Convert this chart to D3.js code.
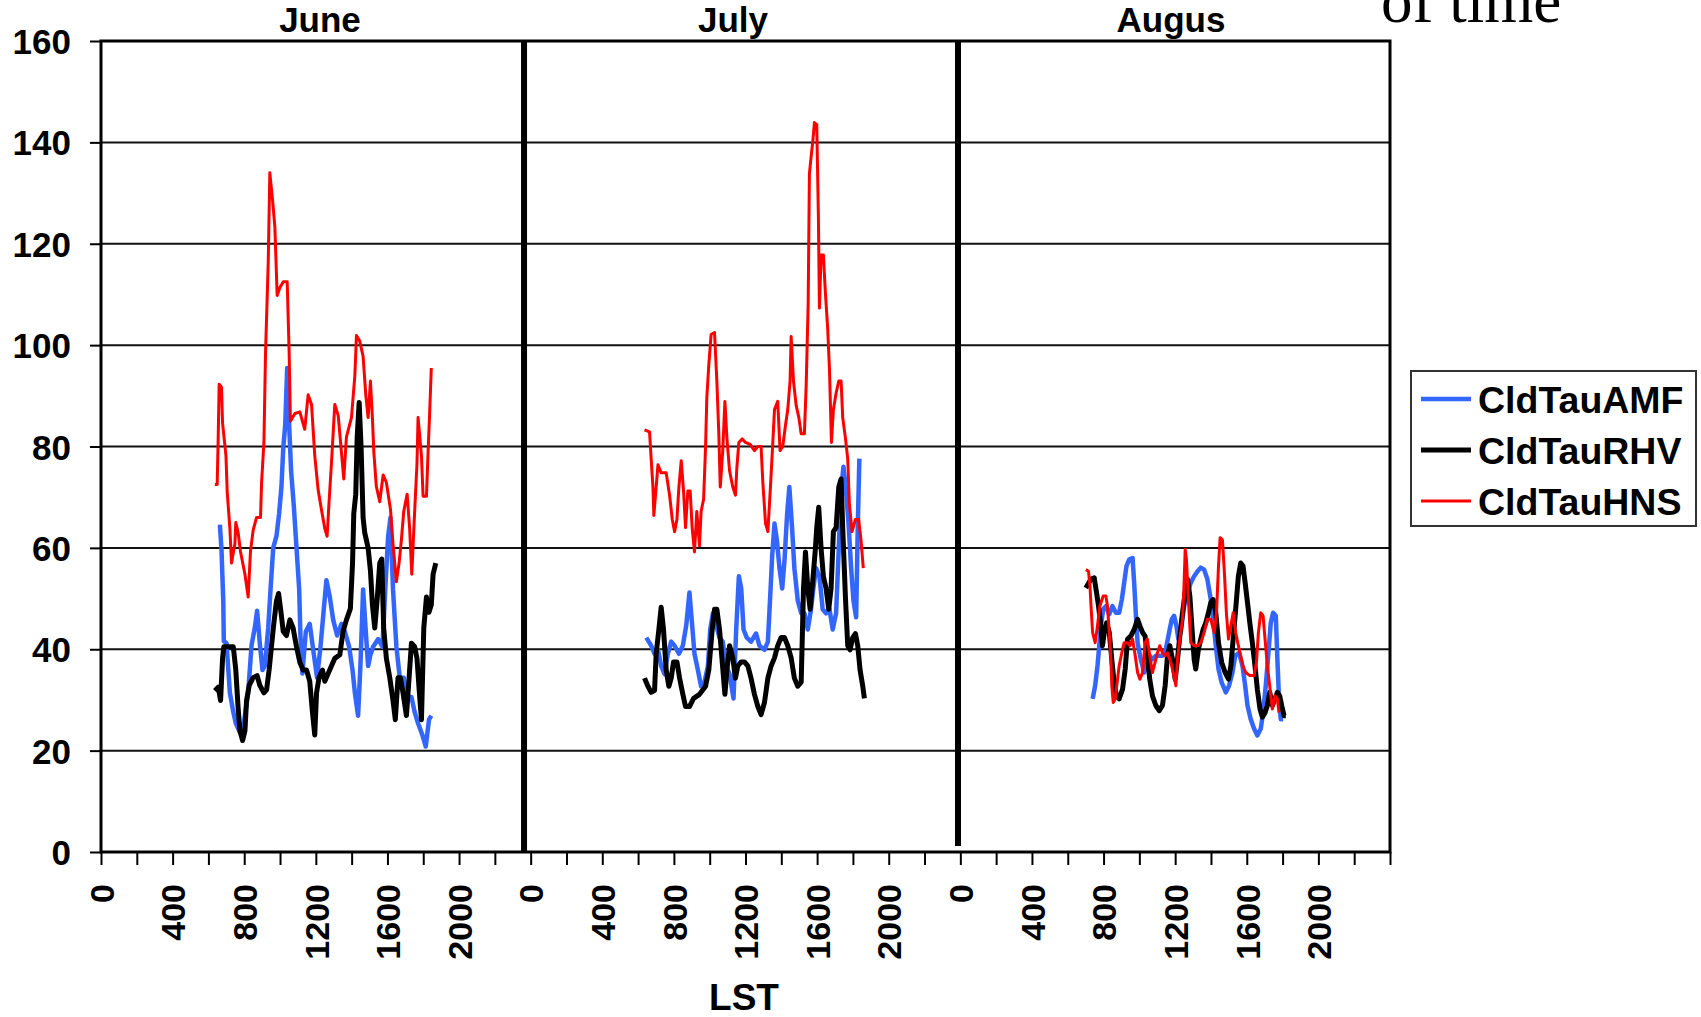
<!DOCTYPE html>
<html>
<head>
<meta charset="utf-8">
<script src="https://cdn.jsdelivr.net/npm/d3@7"></script>
<style>
  body { margin: 0; background: #fff; }
  text { font-family: "Liberation Sans", Arial, sans-serif; font-weight: bold; fill: #000; }
</style>
</head>
<body>
<svg id="chart" width="1701" height="1017"></svg>
<script>
// ---- data (LST, cloud optical depth) ----
const months = ["June", "July", "Augus"];
const seriesNames = ["CldTauAMF", "CldTauRHV", "CldTauHNS"];
const seriesColors = ["#3366ff", "#000000", "#ff0000"];
const yTicks = [0, 20, 40, 60, 80, 100, 120, 140, 160];
const xLabels = [0, 400, 800, 1200, 1600, 2000];

const juneAMF = [[664,64.6],[673,59.7],[683,49.5],[686,41.6],[701,41.2],[720,31.4],[739,27.6],[753,25.4],[772,23.9],[785,23.1],[804,26.9],[822,31.4],[841,40.8],[859,44.2],[872,47.6],[887,41.2],[902,35.9],[915,36.7],[934,44.2],[947,51.8],[962,60],[980,62.3],[995,66.8],[1008,72.1],[1018,79.7],[1029,84.2],[1040,95.5],[1051,84.2],[1062,75.1],[1077,68.3],[1092,60],[1107,51.8],[1114,42.7],[1125,35.2],[1144,43.5],[1166,45],[1189,38.9],[1207,34.4],[1226,40.5],[1241,46.5],[1259,53.6],[1278,50.3],[1297,45.8],[1319,42.7],[1343,45],[1362,43.5],[1386,40.5],[1405,35.9],[1418,31.4],[1436,26.9],[1449,36.7],[1464,51.8],[1479,43.5],[1492,36.7],[1505,38.9],[1520,40.5],[1548,42],[1572,40.5],[1591,54],[1604,62.3],[1617,66],[1631,51.8],[1650,40.5],[1669,34.4],[1691,34.4],[1710,30.6],[1734,30.6],[1752,27.6],[1771,25.4],[1795,23.1],[1814,20.8],[1832,26.1],[1845,26.9]];
const juneRHV = [[636,31.8],[655,32.5],[668,29.9],[679,38.2],[686,40.5],[711,40.5],[739,40.5],[753,35.9],[766,28.4],[776,23.9],[791,22],[804,23.9],[813,29.9],[828,32.9],[850,34.4],[872,34.8],[887,32.9],[910,31.4],[925,32],[939,35.9],[952,40.5],[965,45],[980,49.5],[992,51],[1003,48],[1018,43.5],[1036,42.7],[1055,45.8],[1073,44.2],[1092,40.5],[1111,37.4],[1129,35.9],[1148,35.9],[1166,33.7],[1181,27.6],[1194,23.1],[1204,31.4],[1218,34.4],[1237,35.9],[1250,33.7],[1269,35.2],[1287,36.7],[1306,38.2],[1334,38.9],[1352,43.5],[1371,45.8],[1393,48],[1405,57],[1412,66.8],[1423,70.6],[1431,81.9],[1442,88.7],[1453,79.7],[1464,66],[1473,63],[1492,60],[1505,55.5],[1516,48.8],[1529,44.2],[1542,49.5],[1557,57],[1568,57.8],[1579,44.2],[1594,38.2],[1613,34.4],[1631,29.9],[1644,26.1],[1659,34.4],[1672,34.4],[1687,31.4],[1706,26.9],[1721,34.4],[1734,41.2],[1752,40.5],[1765,38.2],[1777,32.1],[1790,26.1],[1803,44.2],[1818,50.3],[1832,47.3],[1845,48.8],[1855,54.8],[1870,57]];
const juneHNS = [[636,72.5],[649,72.5],[655,82.3],[660,92.3],[673,91.7],[679,84.6],[698,78.2],[705,71],[720,63.8],[729,57],[748,60.8],[753,65],[766,63],[779,59.3],[804,54.8],[822,50.3],[835,59.3],[850,63.5],[869,66],[891,66],[897,72.9],[910,80.8],[919,98.5],[934,116.2],[943,134],[958,128.7],[971,123.4],[984,109.8],[999,111.3],[1018,112.5],[1040,112.5],[1051,98.5],[1058,85],[1083,86.5],[1111,86.8],[1138,83.4],[1157,90.2],[1176,88.3],[1194,78.2],[1213,71.4],[1231,67.6],[1250,63.8],[1263,62.3],[1274,69.1],[1287,76.6],[1306,88.3],[1325,86.1],[1343,78.9],[1356,73.6],[1371,81.9],[1399,85.7],[1418,94],[1427,101.9],[1445,100.8],[1464,97.8],[1479,90.2],[1492,85.7],[1505,92.9],[1516,85.7],[1524,78.9],[1538,72.1],[1557,69.1],[1576,74.4],[1594,72.9],[1617,67.6],[1631,60.8],[1650,53.3],[1665,57],[1678,61.6],[1691,67.2],[1710,70.6],[1724,63.8],[1736,54.8],[1752,67.2],[1765,76.6],[1771,85.7],[1790,78.2],[1799,70.2],[1818,70.2],[1827,78.9],[1836,86.8],[1845,95.5]];

const julyAMF = [[646,42.3],[673,40.7],[692,39.1],[711,39.9],[729,36.7],[748,35.1],[766,39.1],[785,41.5],[804,40.7],[828,39.1],[850,40.7],[869,44.7],[887,51.2],[902,44.7],[915,39.1],[934,35.9],[952,32.7],[971,33.5],[990,36.7],[1003,43.9],[1018,47.1],[1036,44.7],[1055,42.3],[1073,41.5],[1092,36.7],[1111,35.1],[1133,30.3],[1148,43.9],[1163,54.4],[1176,52],[1189,43.9],[1207,42.3],[1231,41.5],[1259,43.1],[1278,40.7],[1306,39.9],[1325,41.5],[1338,50.4],[1349,58.4],[1362,64.8],[1375,61.6],[1390,56],[1405,52],[1418,57.6],[1432,66.4],[1445,72],[1460,64],[1473,56],[1492,49.6],[1511,47.1],[1529,47.1],[1548,43.9],[1566,47.9],[1579,52],[1594,56],[1613,54.4],[1631,47.9],[1650,47.1],[1669,47.9],[1687,43.9],[1706,47.1],[1721,60],[1734,71.2],[1747,76],[1762,71.2],[1777,64],[1790,56],[1803,49.6],[1818,46.3],[1827,64],[1836,77.6]];
const julyRHV = [[636,34.3],[655,32.7],[673,31.5],[692,31.9],[701,39.1],[716,43.9],[729,48.3],[742,43.9],[757,35.9],[772,32.7],[785,34.3],[798,37.5],[817,37.5],[832,34.3],[850,31.1],[865,28.7],[887,28.7],[910,30.3],[943,31.1],[977,32.7],[995,35.9],[1014,43.9],[1027,47.9],[1040,47.9],[1055,43.9],[1070,37.5],[1085,31.1],[1096,35.9],[1111,40.7],[1129,38.3],[1144,34.3],[1157,36.7],[1176,37.5],[1194,37.5],[1213,36.7],[1231,34.3],[1250,31.1],[1269,28.7],[1287,27.1],[1306,29.5],[1325,34.3],[1343,36.7],[1362,38.3],[1380,40.7],[1399,42.3],[1418,42.3],[1436,40.7],[1455,38.3],[1473,34.3],[1492,32.7],[1511,33.5],[1524,52],[1535,59.2],[1548,52],[1561,47.9],[1576,53.6],[1589,59.2],[1598,64],[1609,68],[1622,60],[1635,54.4],[1650,52],[1665,47.9],[1678,52],[1691,63.2],[1706,64],[1721,72],[1734,73.6],[1743,64],[1758,50.4],[1771,40.7],[1784,39.9],[1799,42.3],[1814,43.1],[1827,40.7],[1840,35.9],[1855,32.7],[1864,30.3]];
const julyHNS = [[636,83.3],[664,82.9],[673,77.6],[683,72],[688,66.4],[701,72],[711,76.4],[729,74.8],[757,74.8],[776,70.4],[791,65.6],[804,63.2],[817,65.6],[828,72],[841,77.2],[854,71.2],[865,64],[878,71.2],[891,71.2],[902,64],[915,59.2],[928,67.2],[943,60.4],[952,67.2],[966,69.6],[977,80],[984,89.7],[995,96.1],[1008,102.1],[1027,102.5],[1040,92.9],[1051,82.5],[1059,72],[1073,79.2],[1085,88.9],[1096,81.7],[1111,75.2],[1129,72],[1144,70.4],[1152,76],[1163,80.8],[1181,81.5],[1200,80.8],[1226,80.4],[1250,79.2],[1269,80],[1287,80],[1297,72.8],[1312,64.8],[1325,63.2],[1338,71.2],[1349,78.4],[1362,87.3],[1380,88.9],[1393,79.2],[1408,80],[1423,84.1],[1436,87.3],[1449,92.9],[1455,101.7],[1468,92.9],[1483,88.1],[1498,85.7],[1511,82.5],[1529,82.5],[1539,92.1],[1550,108.1],[1557,133.8],[1566,137],[1576,140.2],[1585,143.9],[1598,143.5],[1607,125.8],[1613,107.3],[1622,117.8],[1635,117.8],[1646,110.5],[1659,103.3],[1669,95.3],[1680,80.8],[1691,87.3],[1706,90.5],[1721,92.9],[1734,92.9],[1743,85.7],[1758,81.7],[1771,77.6],[1780,68.8],[1795,63.2],[1814,65.6],[1832,65.6],[1845,61.6],[1858,56]];

const augAMF = [[739,30.2],[753,32.8],[766,36.7],[776,40.7],[785,44.6],[798,47.9],[813,48.5],[832,46.9],[850,48.5],[869,47.2],[887,47.2],[902,49.8],[915,53.1],[928,56.4],[943,57.7],[962,58],[971,53.1],[980,47.2],[990,41.3],[1008,38],[1027,35.4],[1040,36.7],[1058,38.7],[1073,38],[1092,38.7],[1129,38.7],[1148,40],[1166,43.3],[1181,45.9],[1194,46.6],[1207,44.6],[1218,42],[1231,43.3],[1250,48.5],[1269,51.1],[1287,53.1],[1306,54.4],[1325,55.4],[1343,56.1],[1362,55.7],[1380,53.8],[1399,49.8],[1412,45.9],[1427,40.7],[1442,36.1],[1460,33.4],[1483,31.5],[1501,32.8],[1520,35.4],[1535,38.7],[1557,39.3],[1576,36.7],[1591,32.8],[1604,28.9],[1622,26.2],[1641,24.3],[1659,23],[1678,24.3],[1691,27.5],[1706,32.8],[1721,39.3],[1734,45.2],[1747,47.2],[1762,46.6],[1771,38],[1780,30.2],[1790,26.2],[1803,26.2]];
const augRHV = [[701,52.1],[729,53.8],[748,54.1],[761,51.1],[772,48.5],[785,44.6],[794,40.7],[804,43.3],[817,45.2],[832,43.3],[846,38],[859,33.4],[872,30.8],[887,30.2],[906,32.1],[921,36.1],[934,42],[952,42.6],[971,43.9],[990,45.9],[1003,44.6],[1018,43.3],[1032,42.6],[1045,38.7],[1058,34.1],[1073,30.8],[1092,28.9],[1111,27.9],[1129,28.9],[1144,32.8],[1157,38.7],[1170,40.7],[1185,38],[1200,34.1],[1213,38],[1226,42.6],[1241,47.2],[1256,51.1],[1269,53.8],[1282,50.5],[1293,44.6],[1306,38],[1315,36.1],[1330,40],[1343,42],[1356,43.9],[1371,45.2],[1386,47.2],[1399,49.2],[1412,49.8],[1427,47.2],[1442,41.3],[1460,37.4],[1479,35.4],[1498,34.1],[1511,36.7],[1524,42],[1538,47.9],[1553,54.4],[1566,57],[1579,56.4],[1591,53.1],[1604,49.2],[1617,45.2],[1631,41.3],[1646,36.7],[1659,32.1],[1674,28.2],[1687,26.6],[1702,27.5],[1715,28.9],[1728,31.5],[1743,28.9],[1758,30.2],[1771,31.5],[1784,30.8],[1795,28.9],[1808,26.9],[1818,26.9]];
const augHNS = [[701,55.7],[716,55.4],[724,52.5],[731,47.9],[739,43.3],[753,41.3],[766,44.6],[779,48.5],[798,50.5],[813,50.5],[822,48.5],[832,43.3],[841,38],[846,32.8],[854,29.5],[865,30.2],[878,34.1],[887,36.7],[902,39.3],[915,41.3],[934,41.3],[947,40.7],[962,42],[977,38.7],[990,35.4],[1003,34.1],[1018,35.4],[1032,41.3],[1045,42],[1058,38.7],[1073,35.4],[1088,37.4],[1101,39.3],[1114,40.7],[1129,39.3],[1144,38.7],[1157,39.3],[1176,37.4],[1189,35.4],[1204,32.8],[1213,38],[1226,42],[1241,45.9],[1250,53.1],[1256,59.7],[1263,57.7],[1274,49.8],[1287,41.3],[1306,40.7],[1325,40.7],[1343,41.3],[1362,43.3],[1380,45.9],[1399,45.9],[1418,43.3],[1431,47.2],[1442,56.4],[1451,62],[1464,61.6],[1475,55.1],[1486,47.2],[1498,42],[1511,44.6],[1524,47.2],[1538,43.3],[1553,40.7],[1566,38.7],[1579,36.7],[1594,35.4],[1617,34.8],[1641,34.8],[1654,37.4],[1665,43.3],[1678,47.2],[1691,46.6],[1702,42],[1715,36.7],[1728,32.8],[1743,28.2],[1758,30.8],[1771,30.2],[1780,27.5]];

// one row per month, columns in series order
const monthData = [
  [juneAMF, juneRHV, juneHNS],
  [julyAMF, julyRHV, julyHNS],
  [augAMF, augRHV, augHNS]
];

// ---- layout ----
const panelSpan = 2400;                 // each month axis runs 0..2400 LST
const plot = { left: 101, right: 1390, top: 41, bottom: 852 };
const lineWidths = [4.5, 5, 3];
const sepAt = [2363, 4787];             // thick dividers between months
const titleX = [320, 733, 1171];

const svg = d3.select("#chart");

const x = d3.scaleLinear().domain([0, panelSpan * 3]).range([plot.left, plot.right]);
const y = d3.scaleLinear().domain([0, 160]).range([plot.bottom, plot.top]);

// horizontal grid lines
svg.append("g")
  .selectAll("line")
  .data(yTicks.filter(v => v > 0 && v < 160))
  .enter().append("line")
  .attr("x1", plot.left).attr("x2", plot.right)
  .attr("y1", d => y(d)).attr("y2", d => y(d))
  .attr("stroke", "#111").attr("stroke-width", 2);

// y axis
const yAxis = svg.append("g")
  .attr("transform", "translate(" + plot.left + ",0)")
  .call(d3.axisLeft(y).tickValues(yTicks).tickSize(11).tickPadding(19));
yAxis.select(".domain").remove();
yAxis.selectAll(".tick line").attr("stroke", "#000").attr("stroke-width", 2);
yAxis.selectAll("text")
  .style("font-size", "35px")
  .attr("dy", "0.36em");

// x axis: minor tick every 200, labels every 400 up to 2000 in each month
const xAxis = svg.append("g")
  .attr("transform", "translate(0," + plot.bottom + ")")
  .call(d3.axisBottom(x)
    .tickValues(d3.range(0, panelSpan * 3 + 1, 200))
    .tickSize(13)
    .tickFormat(v => {
      const m = v % panelSpan;
      return (v < panelSpan * 3 && xLabels.includes(m)) ? m : "";
    }));
xAxis.select(".domain").remove();
xAxis.selectAll(".tick line").attr("stroke", "#000").attr("stroke-width", 2);
xAxis.selectAll("text")
  .style("font-size", "34px")
  .attr("transform", "rotate(-90)")
  .attr("text-anchor", "end")
  .attr("x", -32)
  .attr("y", 0)
  .attr("dy", "0.36em");

// plot frame
svg.append("rect")
  .attr("x", plot.left).attr("y", plot.top)
  .attr("width", plot.right - plot.left).attr("height", plot.bottom - plot.top)
  .attr("fill", "none").attr("stroke", "#000").attr("stroke-width", 3);

// month dividers
svg.append("g")
  .selectAll("line")
  .data(sepAt)
  .enter().append("line")
  .attr("x1", d => x(d)).attr("x2", d => x(d))
  .attr("y1", plot.top)
  .attr("y2", (d, i) => i === 0 ? plot.bottom : y(1.2))
  .attr("stroke", "#000").attr("stroke-width", 6);

// series lines
const line = d3.line().curve(d3.curveLinear);
seriesNames.forEach((name, s) => {
  monthData.forEach((row, m) => {
    const off = m * panelSpan;
    svg.append("path")
      .datum(row[s])
      .attr("fill", "none")
      .attr("stroke", seriesColors[s])
      .attr("stroke-width", lineWidths[s])
      .attr("stroke-linejoin", "round")
      .attr("d", line.x(d => x(d[0] + off)).y(d => y(d[1])));
  });
});

// month titles
svg.append("g")
  .selectAll("text")
  .data(months)
  .enter().append("text")
  .attr("x", (d, i) => titleX[i])
  .attr("y", 32)
  .attr("text-anchor", "middle")
  .style("font-size", "35px")
  .text(d => d);

// axis title
svg.append("text")
  .attr("x", 744).attr("y", 1010)
  .attr("text-anchor", "middle")
  .style("font-size", "37px")
  .text("LST");

// legend
const leg = svg.append("g");
leg.append("rect")
  .attr("x", 1411).attr("y", 371)
  .attr("width", 285).attr("height", 155)
  .attr("fill", "#fff").attr("stroke", "#333").attr("stroke-width", 2);
const legRows = leg.selectAll("g.row")
  .data(seriesNames)
  .enter().append("g")
  .attr("class", "row")
  .attr("transform", (d, i) => "translate(0," + (399 + i * 51) + ")");
legRows.append("line")
  .attr("x1", 1421).attr("x2", 1471)
  .attr("stroke", (d, i) => seriesColors[i])
  .attr("stroke-width", (d, i) => lineWidths[i]);
legRows.append("text")
  .attr("x", 1478)
  .attr("dy", "0.36em")
  .style("font-size", "37.5px")
  .text(d => d);

// leftover slide text at the top right
svg.append("text")
  .attr("x", 1381).attr("y", 22)
  .style("font-family", "'Liberation Serif', 'Times New Roman', serif")
  .style("font-weight", "normal")
  .style("font-size", "63px")
  .text("of time");
</script>
</body>
</html>
